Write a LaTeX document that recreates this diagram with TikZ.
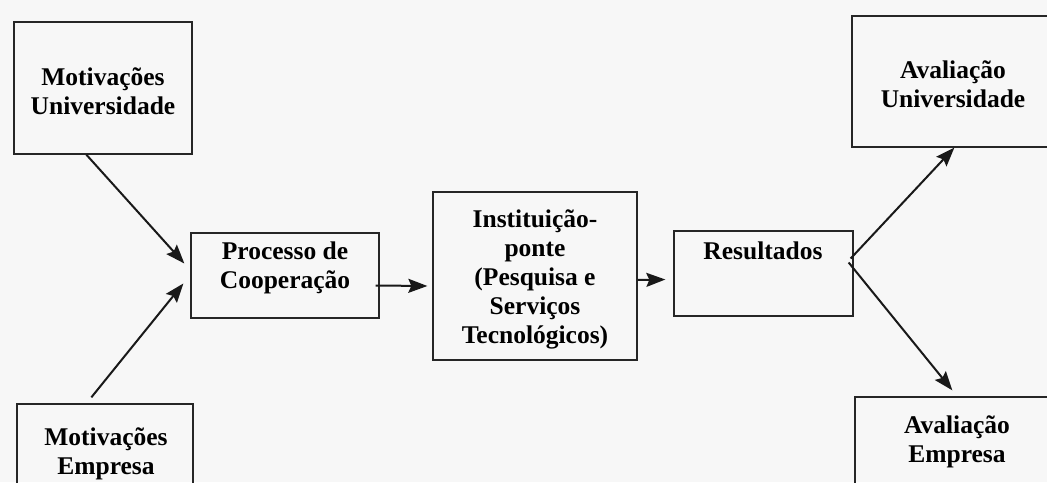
\documentclass[tikz,border=0pt]{standalone}
\usepackage{fontspec}
\setmainfont{Liberation Serif}
\usetikzlibrary{arrows.meta,calc}
\tikzset{
  boxnode/.style={draw=black!85, line width=1.3pt, inner sep=0pt},
  lbl/.style={align=center, inner sep=0pt, font=\fontsize{25.5}{29}\selectfont\bfseries},
  flowarrow/.style={draw=black!90, line width=2pt, arrows={-Stealth[length=19pt,width=14pt,inset=3pt]}}
}
\begin{document}
\begin{tikzpicture}[x=1pt,y=-1pt]
\fill[black!3] (0,0) rectangle (1047,482);
\useasboundingbox (0,0) rectangle (1047,482);
\clip (0,0) rectangle (1047,482);
% boxes
\node[boxnode, minimum width=178pt, minimum height=132pt] (MU) at (103,88) {};
\node[boxnode, minimum width=176pt, minimum height=96pt] (ME) at (105,452) {};
\node[boxnode, minimum width=188pt, minimum height=85pt] (PC) at (285,275.5) {};
\node[boxnode, minimum width=204pt, minimum height=168pt] (IP) at (535,276) {};
\node[boxnode, minimum width=179pt, minimum height=85pt] (RS) at (763.5,273.5) {};
\node[boxnode, minimum width=202pt, minimum height=131pt] (AU) at (953,81.5) {};
\node[boxnode, minimum width=205pt, minimum height=103pt] (AE) at (957.5,448.5) {};
% texts
\node[lbl] (tMU) at (103,91) {Motivações\\Universidade};
\node[lbl] (tME) at (106,454) {Motivações\\Empresa};
\node[lbl] (tPC) at (285,268) {Processo de\\Cooperação};
\node[lbl] (tIP) at (535,279) {Instituição-\\ponte\\(Pesquisa e\\Serviços\\Tecnológicos)};
\node[lbl] (tRS) at (763,251) {Resultados};
\node[lbl] (tAU) at (953,84) {Avaliação\\Universidade};
\node[lbl] (tAE) at (957,442) {Avaliação\\Empresa};
% connectors
\coordinate (r0) at ($(RS.east)+(-3,-15)$);
\coordinate (r1) at ($(RS.east)+(-5,-11)$);
\draw[flowarrow] ($(MU.south west)+(73,0)$) -- ($(PC.west)+(-6,-12)$);
\draw[flowarrow] ($(ME.north west)+(75,-6)$) -- ($(PC.west)+(-7,8)$);
\draw[flowarrow] ($(PC.east)+(-4,10)$) -- ($(IP.west)+(-5,10)$);
\draw[flowarrow] ($(IP.east)+(0,4)$) -- ($(RS.west)+(-8,6)$);
\draw[flowarrow] (r0) -- ($(AU.south west)+(103,0)$);
\draw[flowarrow] (r1) -- ($(AE.north west)+(98,-6)$);
\end{tikzpicture}
\end{document}
